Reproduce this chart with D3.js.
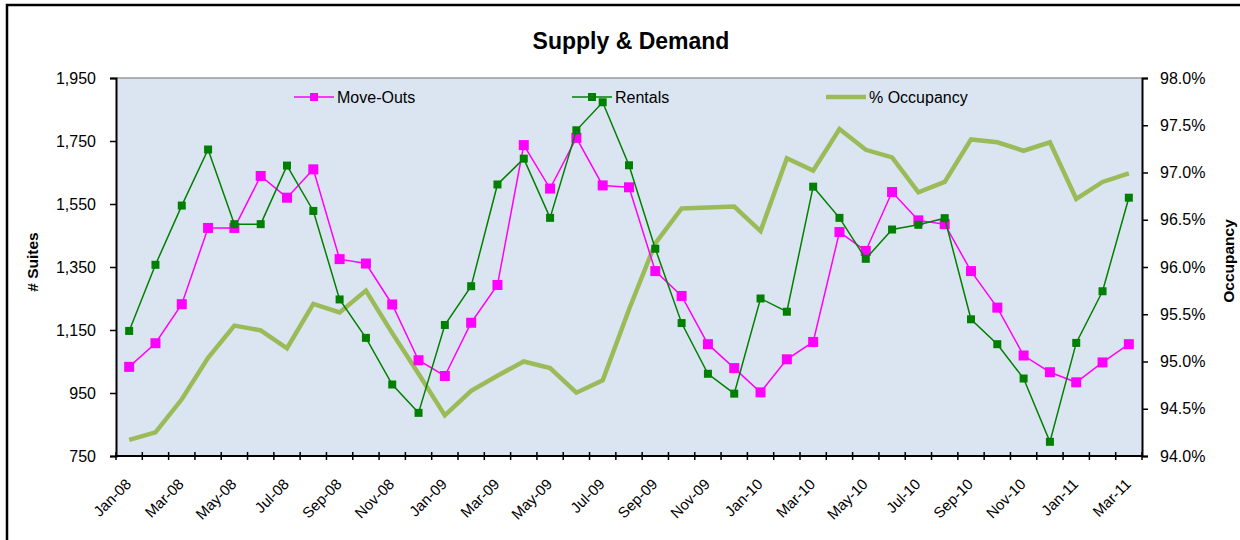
<!DOCTYPE html>
<html>
<head>
<meta charset="utf-8">
<script src="https://cdn.jsdelivr.net/npm/d3@7"></script>
<style>
  body { margin: 0; background: #fff; }
  svg text { font-family: Arial, 'Liberation Sans', sans-serif; }
</style>
</head>
<body>
<div id="chart"></div>
<script>
const months = [
  'Jan-08', 'Feb-08', 'Mar-08', 'Apr-08', 'May-08', 'Jun-08', 'Jul-08', 'Aug-08', 'Sep-08', 'Oct-08', 'Nov-08', 'Dec-08',
  'Jan-09', 'Feb-09', 'Mar-09', 'Apr-09', 'May-09', 'Jun-09', 'Jul-09', 'Aug-09', 'Sep-09', 'Oct-09', 'Nov-09', 'Dec-09',
  'Jan-10', 'Feb-10', 'Mar-10', 'Apr-10', 'May-10', 'Jun-10', 'Jul-10', 'Aug-10', 'Sep-10', 'Oct-10', 'Nov-10', 'Dec-10',
  'Jan-11', 'Feb-11', 'Mar-11',
];
const moveOuts = [
  1033, 1108, 1232, 1474, 1474, 1639, 1570, 1660, 1375, 1361, 1231, 1054,
  1004, 1173, 1293, 1737, 1599, 1760, 1609, 1603, 1337, 1258, 1105, 1029,
  952, 1057, 1112, 1461, 1401, 1588, 1498, 1486, 1337, 1221, 1069, 1016,
  984, 1047, 1105,
];
const rentals = [
  1147, 1357, 1545, 1723, 1486, 1486, 1672, 1528, 1247, 1125, 977, 887,
  1166, 1289, 1612, 1694, 1506, 1784, 1873, 1673, 1408, 1172, 1011, 948,
  1250, 1208, 1605, 1506, 1376, 1469, 1484, 1505, 1184, 1105, 996, 795,
  1109, 1273, 1570,
];
const occupancy = [
  94.17, 94.25, 94.60, 95.04, 95.38, 95.33, 95.14, 95.61, 95.52, 95.75, 95.30, 94.87,
  94.43, 94.69, 94.85, 95.00, 94.93, 94.67, 94.80, 95.55, 96.25, 96.62, 96.63, 96.64,
  96.38, 97.15, 97.02, 97.46, 97.24, 97.16, 96.79, 96.90, 97.35, 97.32, 97.23, 97.32,
  96.72, 96.90, 96.99,
];
const leftTicks = [750, 950, 1150, 1350, 1550, 1750, 1950];
const rightTicks = [94, 94.5, 95, 95.5, 96, 96.5, 97, 97.5, 98];

const size = { width: 1240, height: 540 };
const margin = { left: 116, top: 78, right: 98, bottom: 84 };
const colors = { moveOuts: '#ff00ff', rentals: '#008000', occupancy: '#9bbb59' };

const svg = d3.select('#chart').append('svg')
  .attr('width', size.width)
  .attr('height', size.height);

// outer frame (runs off the right and bottom edge)
svg.append('rect')
  .attr('x', 7).attr('y', 5)
  .attr('width', 1260).attr('height', 560)
  .attr('fill', '#fff')
  .attr('stroke', '#000')
  .attr('stroke-width', 2.5);

svg.append('text')
  .attr('x', 631).attr('y', 49)
  .attr('text-anchor', 'middle')
  .style('font-size', '23px')
  .style('font-weight', 'bold')
  .text('Supply & Demand');

const x = d3.scaleBand()
  .domain(months)
  .range([margin.left, size.width - margin.right]);
const y = d3.scaleLinear()
  .domain([750, 1950])
  .range([size.height - margin.bottom, margin.top]);
const y2 = d3.scaleLinear()
  .domain([94, 98])
  .range([size.height - margin.bottom, margin.top]);

const cx = (d, i) => x(months[i]) + x.bandwidth() / 2;

// plot area
svg.append('rect')
  .attr('x', margin.left).attr('y', margin.top)
  .attr('width', size.width - margin.right - margin.left)
  .attr('height', size.height - margin.bottom - margin.top)
  .attr('fill', '#dbe5f1');
svg.append('line')
  .attr('x1', margin.left).attr('x2', size.width - margin.right)
  .attr('y1', margin.top).attr('y2', margin.top)
  .attr('stroke', '#999').attr('stroke-width', 1.5);

// left axis
const leftAxis = svg.append('g')
  .attr('transform', `translate(${margin.left},0)`)
  .call(d3.axisLeft(y).tickValues(leftTicks).tickFormat(d3.format(',')).tickSize(6).tickPadding(14));
leftAxis.selectAll('text').style('font-size', '16px').attr('fill', '#000');

// right axis
const rightAxis = svg.append('g')
  .attr('transform', `translate(${size.width - margin.right},0)`)
  .call(d3.axisRight(y2).tickValues(rightTicks).tickFormat((d) => `${d.toFixed(1)}%`).tickSize(6).tickPadding(12));
rightAxis.selectAll('text').style('font-size', '16px').attr('fill', '#000');

[leftAxis, rightAxis].forEach((a) => {
  a.select('.domain').attr('stroke', '#000').attr('stroke-width', 2);
  a.selectAll('.tick line').attr('stroke', '#000').attr('stroke-width', 1.5);
});

// bottom axis: ticks at month boundaries, crossing the axis line
const bottom = svg.append('g');
const yBase = size.height - margin.bottom;
bottom.append('line')
  .attr('x1', margin.left).attr('x2', size.width - margin.right)
  .attr('y1', yBase).attr('y2', yBase)
  .attr('stroke', '#000').attr('stroke-width', 2);
bottom.selectAll('line.tick')
  .data(months.concat(['end']))
  .join('line')
  .attr('class', 'tick')
  .attr('x1', (d, i) => margin.left + i * x.step())
  .attr('x2', (d, i) => margin.left + i * x.step())
  .attr('y1', yBase - 4).attr('y2', yBase + 4)
  .attr('stroke', '#000').attr('stroke-width', 1.5);
bottom.selectAll('text')
  .data(months.filter((d, i) => i % 2 === 0))
  .join('text')
  .attr('transform', (d) => `translate(${x(d) + x.bandwidth() / 2 + 3},${yBase + 29}) rotate(-45)`)
  .attr('text-anchor', 'end')
  .style('font-size', '15px')
  .text((d) => d);

// axis titles
svg.append('text')
  .attr('transform', 'translate(38,262) rotate(-90)')
  .attr('text-anchor', 'middle')
  .style('font-size', '15.5px').style('font-weight', 'bold')
  .text('# Suites');
svg.append('text')
  .attr('transform', 'translate(1234,261) rotate(-90)')
  .attr('text-anchor', 'middle')
  .style('font-size', '15.5px').style('font-weight', 'bold')
  .text('Occupancy');

// series
svg.append('path')
  .datum(occupancy)
  .attr('d', d3.line().x(cx).y((d) => y2(d)))
  .attr('fill', 'none')
  .attr('stroke', colors.occupancy)
  .attr('stroke-width', 4.5)
  .attr('stroke-linejoin', 'miter');

const drawSeries = (data, color, sz, width) => {
  svg.append('path')
    .datum(data)
    .attr('d', d3.line().x(cx).y((d) => y(d)))
    .attr('fill', 'none')
    .attr('stroke', color)
    .attr('stroke-width', width);
  svg.append('g').selectAll('rect')
    .data(data)
    .join('rect')
    .attr('x', (d, i) => cx(d, i) - sz / 2)
    .attr('y', (d) => y(d) - sz / 2)
    .attr('width', sz).attr('height', sz)
    .attr('fill', color);
};
drawSeries(moveOuts, colors.moveOuts, 10, 1.5);
drawSeries(rentals, colors.rentals, 8, 1.5);

// legend
const legend = [
  { label: 'Move-Outs', color: colors.moveOuts, x: 294, marker: 8, w: 1.5 },
  { label: 'Rentals', color: colors.rentals, x: 572, marker: 8, w: 1.5 },
  { label: '% Occupancy', color: colors.occupancy, x: 826, marker: 0, w: 4.5 },
];
const lg = svg.append('g').selectAll('g').data(legend).join('g')
  .attr('transform', (d) => `translate(${d.x},97)`);
lg.append('line')
  .attr('x1', 0).attr('x2', 40).attr('y1', 0).attr('y2', 0)
  .attr('stroke', (d) => d.color).attr('stroke-width', (d) => d.w);
lg.filter((d) => d.marker > 0).append('rect')
  .attr('x', (d) => 20 - d.marker / 2).attr('y', (d) => -d.marker / 2)
  .attr('width', (d) => d.marker).attr('height', (d) => d.marker)
  .attr('fill', (d) => d.color);
lg.append('text')
  .attr('x', 43).attr('y', 6)
  .style('font-size', '16px')
  .text((d) => d.label);
</script>
</body>
</html>
